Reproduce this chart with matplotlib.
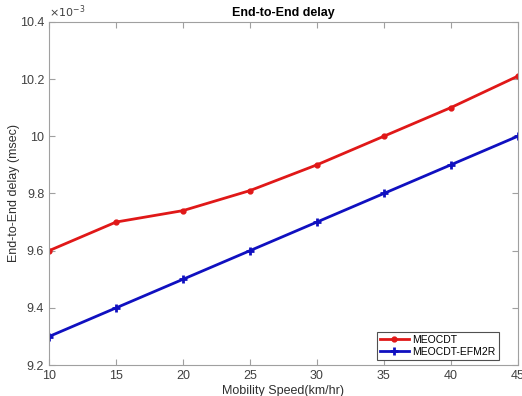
import numpy as np
import matplotlib
matplotlib.use("Agg")
import matplotlib.pyplot as plt

speed = [10, 15, 20, 25, 30, 35, 40, 45]
meocdt = [9.60, 9.70, 9.74, 9.81, 9.90, 10.00, 10.10, 10.21]
efm2r = [9.30, 9.40, 9.50, 9.60, 9.70, 9.80, 9.90, 10.00]

plt.rcParams['font.family'] = 'Liberation Sans'
fig = plt.figure(figsize=(5.22, 3.96), dpi=100)
ax = fig.add_axes([0.094, 0.078, 0.898, 0.867])

ax.plot(speed, meocdt, color='#e01818', lw=2, marker='o', ms=3.5, label='MEOCDT')
ax.plot(speed, efm2r, color='#1010c0', lw=2, marker='+', ms=6, mew=2, label='MEOCDT-EFM2R')

ax.set_xlim(10, 45)
ax.set_ylim(9.2, 10.4)
ax.set_xticks(speed)
ax.set_yticks([9.2, 9.4, 9.6, 9.8, 10.0, 10.2, 10.4])
ax.set_yticklabels(['9.2', '9.4', '9.6', '9.8', '10', '10.2', '10.4'])

for s in ax.spines.values():
    s.set_color('#a0a0a0')
ax.tick_params(direction='in', colors='#a0a0a0', labelcolor='#404040', labelsize=9, top=True, right=True, length=4)

ax.set_title('End-to-End delay', fontsize=9, fontweight='bold', pad=4)
ax.set_xlabel('Mobility Speed(km/hr)', fontsize=9, color='#303030', labelpad=2)
ax.set_ylabel('End-to-End delay (msec)', fontsize=9, color='#303030')
ax.yaxis.set_label_coords(-0.062, 0.5)
ax.text(0.0, 1.005, r'$\times10^{-3}$', transform=ax.transAxes, fontsize=8, color='#404040', va='bottom', ha='left')

leg = ax.legend(loc='lower right', fontsize=7.5, fancybox=False, framealpha=1, edgecolor='#505050',
                borderaxespad=0.5, handlelength=2.8, handletextpad=0.3, borderpad=0.3, labelspacing=0.2,
                bbox_to_anchor=(0.97, 0.0))
leg.get_frame().set_linewidth(0.8)

fig.savefig('out.png', dpi=100)
